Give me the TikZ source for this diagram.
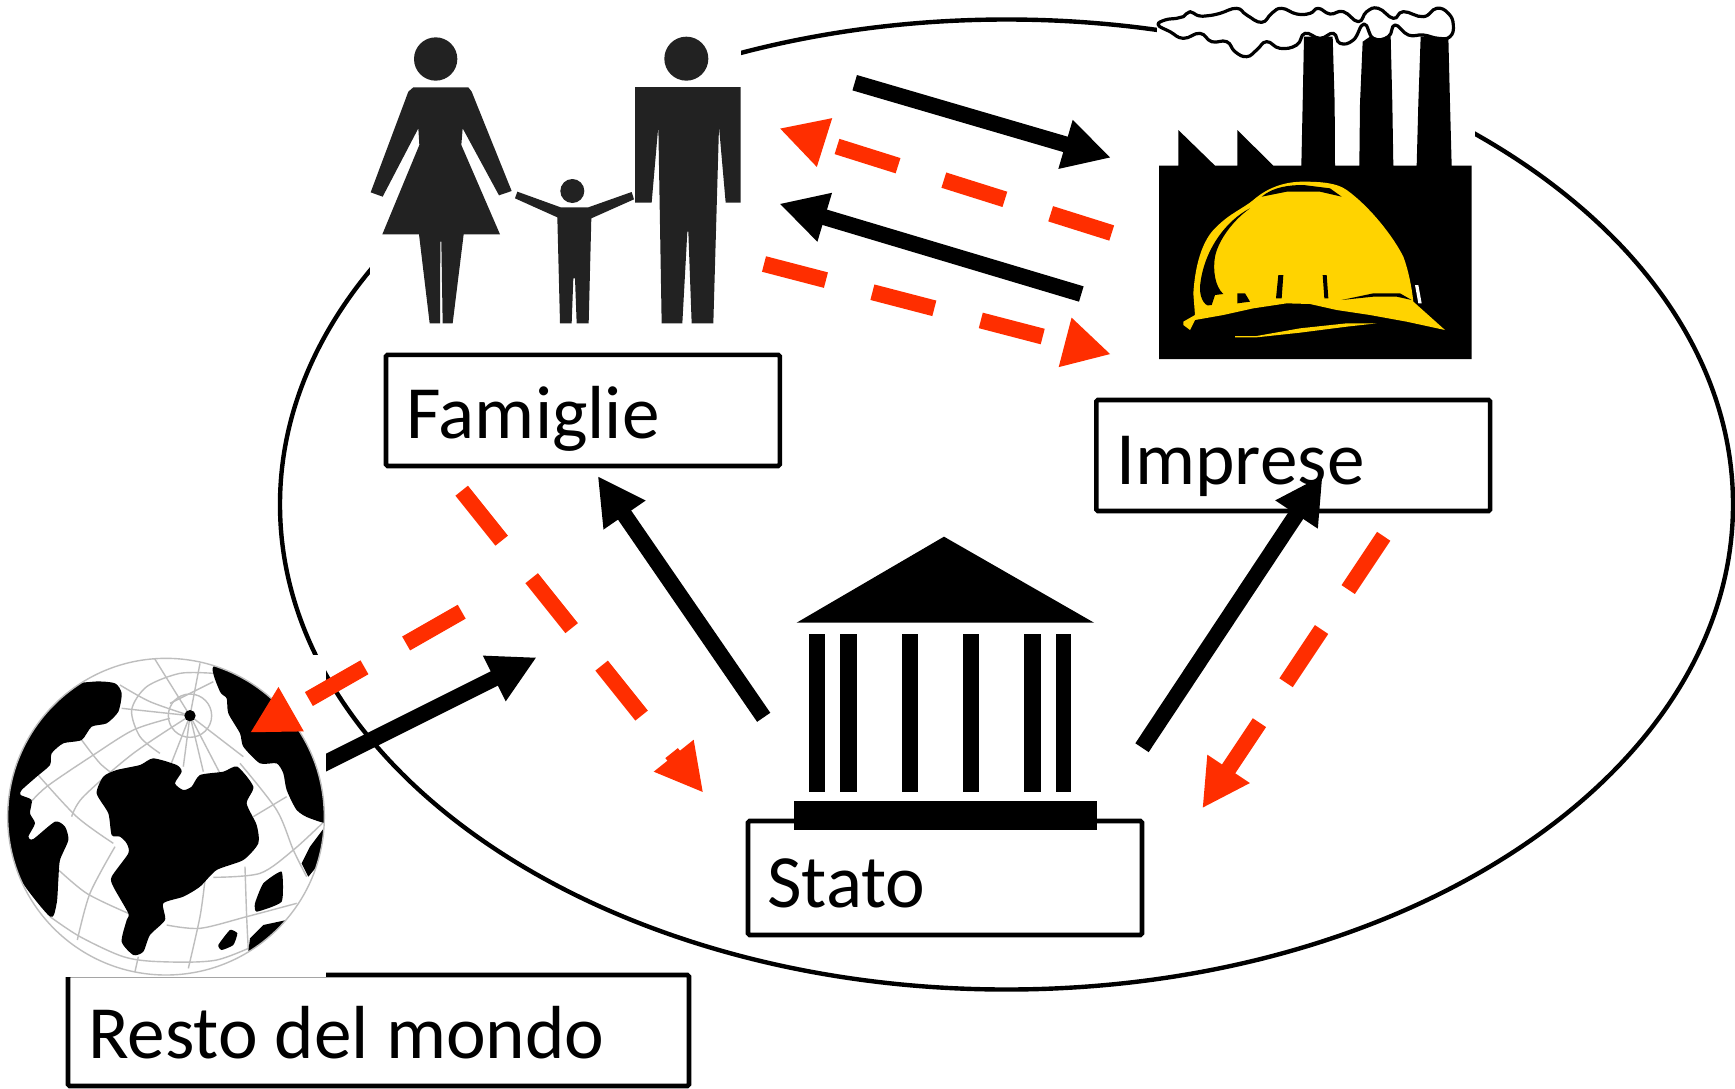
\documentclass[tikz,border=0pt]{standalone}
\usepackage{fontspec}
\setmainfont{Carlito}
\usetikzlibrary{arrows.meta}
\definecolor{redarrow}{HTML}{FF2E00}
\definecolor{helmet}{HTML}{FFD300}
\definecolor{person}{HTML}{222222}
\definecolor{gridgrey}{HTML}{BEBEBE}
\tikzset{
  px/.style={x=0.5pt,y=-0.5pt},
  labelbox/.style={draw=black,line width=2.3pt,rounded corners=0.8pt,fill=white,inner sep=0pt,minimum width=#1},
  labeltext/.style={font=\fontsize{37.6}{41}\selectfont,text=black,inner sep=0pt,anchor=base west},
  tipshape/.style={-{Triangle[length=23.7pt,width=23.7pt]}},
  blackflow/.style={tipshape,draw=black,line width=8pt},
  redflow/.style={tipshape,draw=redarrow,line width=8pt,dash pattern=on 32pt off 24pt},
  grid/.style={draw=gridgrey,line width=0.7pt},
  cover/.style={fill=white,draw=none},
}
\begin{document}
\begin{tikzpicture}[px]
\useasboundingbox (0,0) rectangle (1735,1088);
\fill[white] (0,0) rectangle (1735,1088);

% economy ellipse
\draw[line width=2.2pt] (1006.5,504.5) ellipse [x radius=726.5,y radius=485];

% label boxes
\node[labelbox=196.9pt,minimum height=55.6pt] (famiglie) at (582.9,410.4) {};
\node[labelbox=196.9pt,minimum height=55.5pt] (imprese) at (1293.2,455.5) {};
\node[labelbox=197pt,minimum height=57pt] (stato) at (945,878) {};
\node[labelbox=310.5pt,minimum height=55.5pt] (resto) at (378.5,1030.5) {};

\node[labeltext] (famigliet) at (406,438.3) {Famiglie};
\node[labeltext] (impreset) at (1116,484) {Imprese};
\node[labeltext] (statot) at (767,907) {Stato};
\node[labeltext] (restot) at (88,1058) {Resto del mondo};

% white backgrounds of the pictures
\fill[cover] (370,0) rectangle (741,330);
\fill[cover] (1157,0) rectangle (1475,359);

% family
\begin{scope}[shift={(350,20)},scale=1/3,fill=person]
  \fill (257,117) circle [radius=65];
  \fill (190,202) -- (355,202) -- (365,215) -- (485,513) -- (447,526) -- (338,325) -- (334,375) -- (450,643) -- (341,643) -- (308,910) -- (278,910) -- (274,665) -- (271,665) -- (270,910) -- (239,910) -- (207,643) -- (97,643) -- (208,375) -- (205,325) -- (98,530) -- (62,517) -- (175,215) -- cycle;
  \fill (667,513) circle [radius=36];
  \fill (502,515) -- (632,562) -- (715,562) -- (845,516) -- (852,538) -- (724,595) -- (716,910) -- (680,910) -- (675,775) -- (670,775) -- (665,910) -- (630,910) -- (622,592) -- (495,535) -- cycle;
  \fill (1009,116) circle [radius=66];
  \fill (855,201) -- (1172,201) -- (1172,548) -- (1127,548) -- (1107,320) -- (1090,910) -- (1025,910) -- (1015,635) -- (1012,635) -- (997,910) -- (935,910) -- (925,318) -- (905,548) -- (855,548) -- cycle;
\end{scope}

% factory with helmet
\begin{scope}[shift={(1140,0)},scale=1/3]
  \fill[black] (57,497) -- (115,497) -- (115,390) -- (225,497) -- (292,497) -- (292,390) -- (400,497) -- (484,497) -- (488,310) -- (492,110) -- (578,110) -- (584,310) -- (585,497) -- (658,497) -- (660,310) -- (668,125) -- (690,110) -- (752,110) -- (757,310) -- (760,497) -- (830,497) -- (835,310) -- (842,110) -- (925,110) -- (930,310) -- (935,497) -- (995,497) -- (995,1077) -- (57,1077) -- cycle;
  \draw[black,fill=white,line width=1.6pt,line join=round] plot[smooth cycle,tension=0.8] coordinates {(55,75) (75,60) (110,55) (130,50) (150,35) (175,47) (205,47) (240,40) (290,25) (320,45) (365,67) (395,40) (425,25) (470,42) (510,40) (535,25) (570,42) (610,35) (655,65) (680,35) (715,25) (760,55) (790,35) (850,50) (890,25) (925,40) (940,75) (930,110) (895,115) (850,105) (805,105) (765,75) (745,110) (700,115) (672,72) (640,120) (600,130) (580,100) (540,115) (495,100) (470,135) (420,145) (380,125) (350,150) (320,170) (285,155) (260,125) (215,125) (180,100) (130,115) (90,95)};
  \fill[helmet] (130,965) -- (165,945) -- (160,880) .. controls (165,800) and (185,720) .. (230,680) .. controls (270,640) and (310,625) .. (340,600) .. controls (380,565) and (430,545) .. (490,545) .. controls (540,545) and (590,548) .. (620,570) .. controls (690,620) and (760,710) .. (790,770) .. controls (805,810) and (815,860) .. (820,905) -- (915,990) -- (800,965) -- (690,945) -- (590,930) -- (510,912) -- (440,910) -- (340,925) -- (250,945) -- (165,960) -- (150,990) -- (130,975) -- cycle;
  \fill[black] (330,625) .. controls (260,660) and (190,750) .. (180,860) .. controls (178,900) and (200,925) .. (215,915) -- (225,885) -- (250,882) .. controls (225,860) and (218,810) .. (225,770) .. controls (235,720) and (280,660) .. (330,625) -- cycle;
  \fill[black] (415,825) -- (430,825) -- (425,895) -- (408,895) -- cycle;
  \fill[black] (548,825) -- (560,825) -- (565,895) -- (553,895) -- cycle;
  \fill[black] (292,880) -- (315,880) -- (330,905) -- (292,910) -- cycle;
  \fill[black] (365,590) .. controls (400,560) and (450,555) .. (490,555) -- (570,565) -- (605,590) -- (540,575) -- (440,575) -- cycle;
  \fill[black] (605,900) -- (700,880) -- (780,880) -- (815,900) -- (770,890) -- (700,890) -- cycle;
  \fill[white] (825,855) -- (835,855) -- (845,910) -- (835,910) -- cycle;
  \fill[helmet] (285,1008) -- (350,1008) -- (480,985) -- (620,970) -- (710,970) -- (620,980) -- (480,998) -- (350,1012) -- (285,1012) -- cycle;
\end{scope}

% temple
\begin{scope}[shift={(780,520)},scale=1/3]
  \fill[black] (492,50) -- (942,308) -- (50,308) -- cycle;
  \foreach \xa/\xb in {88/135,180/230,366/413,550/596,733/782,827/874}
    \fill[black] (\xa,342) rectangle (\xb,815);
  \fill[black] (43,843) rectangle (950,930);
\end{scope}

% arrow end points
\coordinate (h1) at (854.7,82.7);   \coordinate (f1) at (1111,157.7);
\coordinate (h2) at (1081.3,294);   \coordinate (f2) at (779.3,203.7);
\coordinate (h3) at (1111.7,233);   \coordinate (f3) at (779.3,128.3);
\coordinate (h4) at (764,264);      \coordinate (f4) at (1111,354.3);
\coordinate (h5) at (461.7,490.7);  \coordinate (f5) at (703.3,792.7);
\coordinate (h6) at (763.7,717.3);  \coordinate (f6) at (597.7,476);
\coordinate (h7) at (318,766.6);    \coordinate (f7) at (536.7,657.3);
\coordinate (h8) at (461.7,611.7);  \coordinate (f8) at (250,732.7);
\coordinate (h9) at (1142,747.7);   \coordinate (f9) at (1322.7,475);
\coordinate (h10) at (1383.7,536.3);\coordinate (f10) at (1202.3,808.3);

% this arrow runs under the globe's picture
\draw[blackflow] (h7) -- (f7);

% globe
\fill[cover] (0,655) rectangle (326,977);
\begin{scope}[shift={(0,640)},scale=1/3]
  \begin{scope}
    \clip (498,530) circle [radius=475];
    \draw[grid] (570,227) -- (460,50);
    \draw[grid] (570,227) -- (600,70);
    \draw[grid] (570,227) circle [radius=65];
    \draw[grid] plot[smooth] coordinates {(640,100) (540,100) (440,140) (395,210) (420,290) (480,340)};
    \draw[grid] plot[smooth] coordinates {(570,227) (450,185) (360,135)};
    \draw[grid] (570,227) -- (365,205);
    \draw[grid] plot[smooth] coordinates {(80,500) (140,440) (280,345) (400,270) (510,235)};
    \draw[grid] plot[smooth] coordinates {(570,227) (400,340) (250,470) (215,530)};
    \draw[grid] plot[smooth] coordinates {(110,400) (230,530) (340,610)};
    \draw[grid] plot[smooth] coordinates {(245,300) (300,370) (350,410)};
    \draw[grid] plot[smooth] coordinates {(165,680) (260,760) (385,820)};
    \draw[grid] plot[smooth] coordinates {(150,830) (240,890) (370,950) (480,965) (650,960) (800,900)};
    \draw[grid] plot[smooth] coordinates {(500,855) (600,865) (740,830) (890,790)};
    \draw[grid] plot[smooth] coordinates {(640,712) (780,700) (880,630) (972,545)};
    \draw[grid] plot[smooth] coordinates {(232,900) (270,760) (345,620)};
    \draw[grid] (405,995) -- (415,950);
    \draw[grid] plot[smooth] coordinates {(565,985) (600,830) (615,720)};
    \draw[grid] plot[smooth] coordinates {(735,680) (740,830) (745,930)};
    \draw[grid] plot[smooth] coordinates {(720,370) (830,510) (880,630) (920,710)};
    \draw[grid] (760,530) -- (860,470);
    \draw[grid] (570,227) -- (510,380);
    \draw[grid] (570,227) -- (550,380);
    \draw[grid] (570,227) -- (610,395);
    \draw[grid] (570,227) -- (660,400);
    \draw[grid] (570,227) -- (730,350);
    \draw[grid] (510,190) -- (640,125);
    \fill[black] plot[smooth cycle,tension=0.4] coordinates {(345,130) (365,160) (355,215) (320,250) (275,260) (245,300) (190,310) (155,340) (150,375) (110,410) (65,450) (62,465) (95,480) (90,520) (105,550) (85,590) (100,597) (165,545) (195,560) (205,600) (180,660) (175,720) (170,790) (150,830) (50,700) (-20,500) (50,300) (150,150) (280,125)};
    \fill[black] plot[smooth cycle,tension=0.4] coordinates {(640,80) (660,155) (680,175) (685,220) (720,280) (730,320) (780,370) (830,370) (850,400) (860,450) (890,510) (930,535) (1000,545) (1020,400) (900,200) (750,80)};
    \fill[black] plot[smooth cycle,tension=0.4] coordinates {(290,460) (310,410) (350,390) (420,375) (460,355) (530,375) (545,395) (525,430) (550,450) (575,440) (600,405) (670,395) (712,380) (760,440) (740,490) (770,555) (775,610) (730,660) (650,690) (600,740) (550,770) (490,790) (495,840) (450,885) (430,935) (400,945) (365,905) (380,840) (385,820) (340,740) (335,710) (385,640) (380,610) (360,590) (335,585) (325,520)};
    \fill[black] (975,560) -- (930,620) -- (905,670) -- (925,710) -- (975,650) -- cycle;
    \fill[black] plot[smooth cycle,tension=0.3] coordinates {(790,730) (845,695) (845,785) (770,815) (765,790)};
    \fill[black] plot[smooth cycle,tension=0.3] coordinates {(690,870) (712,880) (700,915) (665,930) (655,915)};
    \fill[black] (790,855) -- (860,840) -- (760,940) -- (745,935) -- (750,895) -- cycle;
    \fill[black] (570,227) circle [radius=17];
  \end{scope}
  \draw[draw=gridgrey,line width=0.7pt] (498,530) circle [radius=475];
\end{scope}

% arrows
\draw[blackflow] (h1) -- (f1);
\draw[redflow] (h3) -- (f3);
\draw[blackflow] (h2) -- (f2);
\draw[redflow] (h4) -- (f4);
\draw[redflow] (h5) -- (f5);
\draw[blackflow] (h6) -- (f6);
\draw[redflow] (h8) -- (f8);
\draw[blackflow] (h9) -- (f9);
\draw[redflow] (h10) -- (f10);
\end{tikzpicture}
\end{document}
